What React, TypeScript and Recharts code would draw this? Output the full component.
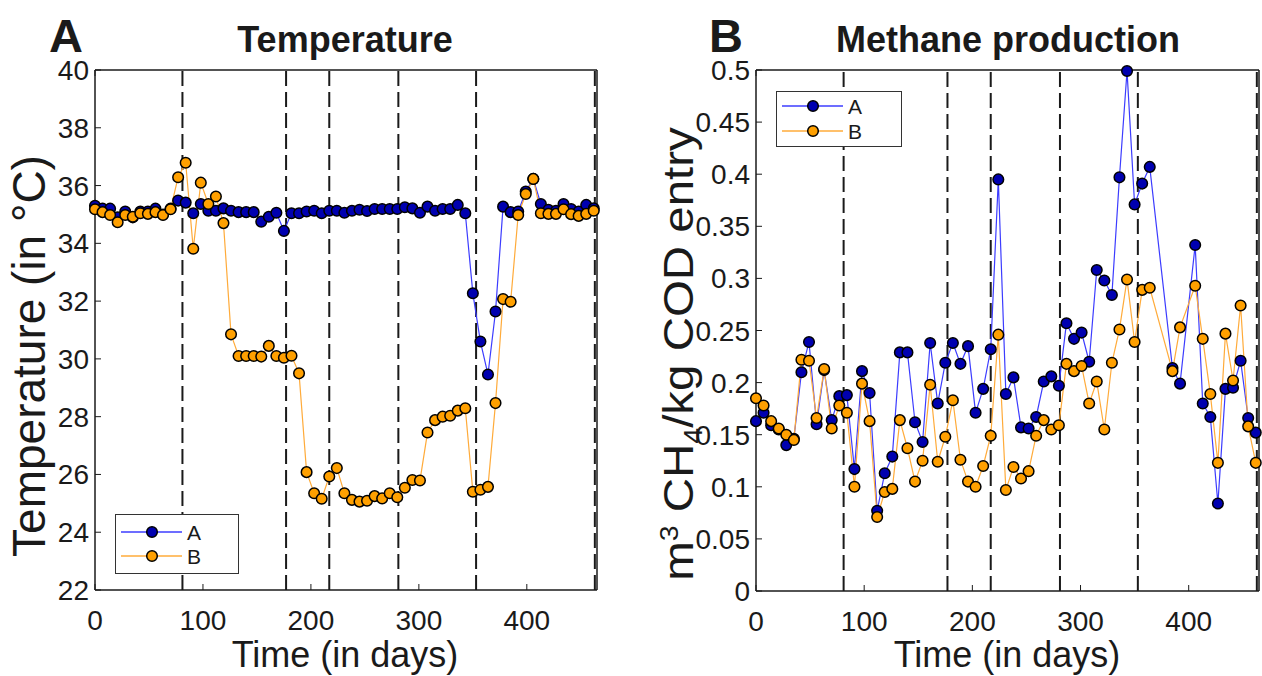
import React from "react";
import { ComposedChart, Line, XAxis, YAxis, ReferenceLine } from "recharts";

// ---- data ----
const tempDays = [0, 7, 14, 21, 28, 35, 42, 49, 56, 63, 70, 77, 84, 91, 98, 105, 112, 119, 126, 133, 140, 147, 154, 161, 168, 175, 182, 189, 196, 203, 210, 217, 224, 231, 238, 245, 252, 259, 266, 273, 280, 287, 294, 301, 308, 315, 322, 329, 336, 343, 350, 357, 364, 371, 378, 385, 392, 399, 406, 413, 420, 427, 434, 441, 448, 455, 462];
const tempA = [35.3, 35.2, 35.2, 34.9, 35.1, 34.9, 35.1, 35.1, 35.2, 35.0, 35.2, 35.48, 35.41, 35.04, 35.36, 35.13, 35.13, 35.21, 35.13, 35.08, 35.08, 35.08, 34.75, 34.92, 35.06, 34.43, 35.04, 35.04, 35.1, 35.13, 35.04, 35.13, 35.13, 35.06, 35.13, 35.16, 35.12, 35.19, 35.19, 35.19, 35.19, 35.25, 35.21, 35.06, 35.27, 35.13, 35.19, 35.19, 35.33, 35.04, 32.27, 30.6, 29.46, 31.64, 35.27, 35.08, 35.1, 35.79, 36.23, 35.36, 35.16, 35.13, 35.36, 35.19, 35.1, 35.33, 35.21];
const tempB = [35.18, 35.08, 34.98, 34.73, 34.98, 34.92, 35.04, 35.02, 35.08, 34.98, 35.18, 36.29, 36.79, 33.81, 36.1, 35.36, 35.62, 34.7, 30.85, 30.1, 30.1, 30.1, 30.08, 30.45, 30.1, 30.04, 30.11, 29.5, 26.08, 25.35, 25.16, 25.93, 26.22, 25.35, 25.12, 25.06, 25.09, 25.25, 25.17, 25.35, 25.21, 25.54, 25.81, 25.79, 27.45, 27.88, 28.0, 28.03, 28.21, 28.29, 25.4, 25.47, 25.57, 28.47, 32.07, 31.98, 34.98, 35.71, 36.23, 35.04, 35.02, 35.02, 35.18, 35.01, 34.95, 35.02, 35.13];

const methDays = [0, 7, 14, 21, 28, 35, 42, 49, 56, 63, 70, 77, 84, 91, 98, 105, 112, 119, 126, 133, 140, 147, 154, 161, 168, 175, 182, 189, 196, 203, 210, 217, 224, 231, 238, 245, 252, 259, 266, 273, 280, 287, 294, 301, 308, 315, 322, 329, 336, 343, 350, 357, 364, 385, 392, 406, 413, 420, 427, 434, 441, 448, 455, 462];
const methA = [0.163, 0.171, 0.159, 0.155, 0.14, 0.146, 0.21, 0.239, 0.16, 0.212, 0.164, 0.187, 0.188, 0.117, 0.211, 0.19, 0.077, 0.113, 0.129, 0.229, 0.229, 0.162, 0.143, 0.238, 0.18, 0.219, 0.238, 0.218, 0.235, 0.171, 0.194, 0.232, 0.395, 0.189, 0.205, 0.157, 0.156, 0.167, 0.201, 0.206, 0.197, 0.257, 0.242, 0.248, 0.22, 0.308, 0.298, 0.284, 0.397, 0.499, 0.371, 0.391, 0.407, 0.214, 0.199, 0.332, 0.18, 0.167, 0.084, 0.194, 0.195, 0.221, 0.166, 0.152];
const methB = [0.185, 0.178, 0.163, 0.156, 0.15, 0.145, 0.222, 0.221, 0.166, 0.213, 0.156, 0.178, 0.171, 0.1, 0.199, 0.163, 0.071, 0.095, 0.098, 0.164, 0.137, 0.105, 0.125, 0.198, 0.124, 0.148, 0.183, 0.126, 0.105, 0.1, 0.12, 0.149, 0.246, 0.097, 0.119, 0.108, 0.115, 0.149, 0.164, 0.155, 0.159, 0.218, 0.211, 0.216, 0.18, 0.201, 0.155, 0.219, 0.251, 0.299, 0.239, 0.289, 0.291, 0.211, 0.253, 0.293, 0.242, 0.189, 0.123, 0.247, 0.202, 0.274, 0.158, 0.123];

const dayTicks = [0, 100, 200, 300, 400];
const tempTicks = [22, 24, 26, 28, 30, 32, 34, 36, 38, 40];
const methTicks = [0, 0.05, 0.1, 0.15, 0.2, 0.25, 0.3, 0.35, 0.4, 0.45, 0.5];
const phaseDays = [81, 177, 217, 281, 353, 463];

const tempData = tempDays.map((d, i) => ({ day: d, A: tempA[i], B: tempB[i] }));
const methData = methDays.map((d, i) => ({ day: d, A: methA[i], B: methB[i] }));

// ---- style ----
const FONT = '"Liberation Sans", Arial, sans-serif';
const INK = "#1a1a1a";
const TICK_LEN = 6;
const TICK_FONT = 28;
const BLUE_LINE = "#3c3cff";
const BLUE_DOT = "#0000b0";
const ORANGE_LINE = "#ffab3a";
const ORANGE_DOT = "#ffa000";

const bottomTick = (gap: number) => (p: any) => {
  const axisY = p.y - gap;
  return (
    <g>
      <line x1={p.x} x2={p.x} y1={axisY} y2={axisY - TICK_LEN} stroke={INK} strokeWidth={1} />
      <text x={p.x} y={p.y} textAnchor="middle" fontSize={TICK_FONT} fontFamily={FONT} fill={INK}>
        {p.payload.value}
      </text>
    </g>
  );
};

const topTick = (p: any) => (
  <line x1={p.x} x2={p.x} y1={p.y} y2={p.y + TICK_LEN} stroke={INK} strokeWidth={1} />
);

const leftTick = (gap: number, fmt: (v: number) => string) => (p: any) => {
  const axisX = p.x + gap;
  return (
    <g>
      <line x1={axisX} x2={axisX + TICK_LEN} y1={p.y} y2={p.y} stroke={INK} strokeWidth={1} />
      <text x={p.x} y={p.y} dy={10} textAnchor="end" fontSize={TICK_FONT} fontFamily={FONT} fill={INK}>
        {fmt(p.payload.value)}
      </text>
    </g>
  );
};

const rightTick = (p: any) => (
  <line x1={p.x} x2={p.x - TICK_LEN} y1={p.y} y2={p.y} stroke={INK} strokeWidth={1} />
);

const axisLine = { stroke: INK, strokeWidth: 1.5 };

function Panel({
  width,
  data,
  yDomain,
  yTicks,
  yFmt,
  leftWidth,
  rightWidth,
  bottomHeight,
}: {
  width: number;
  data: any[];
  yDomain: [number, number];
  yTicks: number[];
  yFmt: (v: number) => string;
  leftWidth: number;
  rightWidth: number;
  bottomHeight: number;
}) {
  return (
    <ComposedChart width={width} height={676} data={data} margin={{ top: 0, right: 0, bottom: 0, left: 0 }}>
      <XAxis
        dataKey="day"
        type="number"
        domain={[0, 465]}
        ticks={dayTicks}
        interval={0}
        height={bottomHeight}
        tickSize={0}
        tickMargin={40}
        tickLine={false}
        axisLine={axisLine}
        tick={bottomTick(40)}
      />
      <XAxis
        xAxisId="top"
        orientation="top"
        type="number"
        domain={[0, 465]}
        ticks={dayTicks}
        interval={0}
        height={70}
        tickSize={0}
        tickMargin={0}
        tickLine={false}
        axisLine={axisLine}
        tick={topTick}
      />
      <YAxis
        type="number"
        domain={yDomain}
        ticks={yTicks}
        interval={0}
        width={leftWidth}
        tickSize={0}
        tickMargin={6}
        tickLine={false}
        axisLine={axisLine}
        tick={leftTick(6, yFmt)}
      />
      <YAxis
        yAxisId="right"
        orientation="right"
        type="number"
        domain={yDomain}
        ticks={yTicks}
        interval={0}
        width={rightWidth}
        tickSize={0}
        tickMargin={0}
        tickLine={false}
        axisLine={axisLine}
        tick={rightTick}
      />
      {phaseDays.map((d) => (
        <ReferenceLine key={d} x={d} stroke={INK} strokeWidth={2} strokeDasharray="15 6" />
      ))}
      <Line
        dataKey="A"
        type="linear"
        stroke={BLUE_LINE}
        strokeWidth={1.2}
        dot={{ r: 5.3, fill: BLUE_DOT, stroke: "#000", strokeWidth: 1.5 }}
        activeDot={false}
        isAnimationActive={false}
      />
      <Line
        dataKey="B"
        type="linear"
        stroke={ORANGE_LINE}
        strokeWidth={1.2}
        dot={{ r: 5.3, fill: ORANGE_DOT, stroke: "#000", strokeWidth: 1.5 }}
        activeDot={false}
        isAnimationActive={false}
      />
    </ComposedChart>
  );
}

function LegendBox({ left, top, width, height, rows }: { left: number; top: number; width: number; height: number; rows: number[] }) {
  const items = [
    { name: "A", line: BLUE_LINE, dot: BLUE_DOT },
    { name: "B", line: ORANGE_LINE, dot: ORANGE_DOT },
  ];
  return (
    <div style={{ position: "absolute", left, top, width, height, border: "1.5px solid #333", background: "#fff", boxSizing: "border-box" }}>
      <svg width={width} height={height} style={{ position: "absolute", left: 0, top: 0 }}>
        {items.map((it, i) => (
          <g key={it.name}>
            <line x1={5} x2={66} y1={rows[i]} y2={rows[i]} stroke={it.line} strokeWidth={1.5} />
            <circle cx={36} cy={rows[i]} r={5.3} fill={it.dot} stroke="#000" strokeWidth={1.5} />
            <text x={71} y={rows[i] + 8} fontSize={21} fontFamily={FONT} fill={INK}>
              {it.name}
            </text>
          </g>
        ))}
      </svg>
    </div>
  );
}

const centered = (x: number, y: number, extra: React.CSSProperties = {}): React.CSSProperties => ({
  position: "absolute",
  left: x,
  top: y,
  transform: "translate(-50%, -50%)",
  whiteSpace: "nowrap",
  lineHeight: 1,
  fontFamily: FONT,
  color: INK,
  ...extra,
});

export default function App() {
  const tempFmt = (v: number) => String(v);
  const methFmt = (v: number) => String(+v.toFixed(2));
  return (
    <div style={{ position: "absolute", left: 0, top: 0, width: 1262, height: 676, background: "#fff", overflow: "hidden" }}>
      <div style={{ position: "absolute", left: 0, top: 0 }}>
        <Panel width={620} data={tempData} yDomain={[22, 40]} yTicks={tempTicks} yFmt={tempFmt} leftWidth={95} rightWidth={23} bottomHeight={86} />
      </div>
      <div style={{ position: "absolute", left: 630, top: 0 }}>
        <Panel width={632} data={methData} yDomain={[0, 0.5]} yTicks={methTicks} yFmt={methFmt} leftWidth={126} rightWidth={3} bottomHeight={85} />
      </div>

      <LegendBox left={115} top={514} width={124} height={60} rows={[17, 41]} />
      <LegendBox left={776} top={91} width={126} height={56} rows={[14, 39]} />

      <div style={centered(66, 36, { fontSize: 47, fontWeight: "bold", lineHeight: 0.75 })}>A</div>
      <div style={centered(345, 40, { fontSize: 36, fontWeight: "bold" })}>Temperature</div>
      <div style={centered(726, 36, { fontSize: 47, fontWeight: "bold", lineHeight: 0.75 })}>B</div>
      <div style={centered(1008, 40, { fontSize: 36, fontWeight: "bold" })}>Methane production</div>

      <div style={centered(345, 655, { fontSize: 36 })}>Time (in days)</div>
      <div style={centered(1007, 655, { fontSize: 36 })}>Time (in days)</div>

      <div style={centered(29, 356, { fontSize: 46, transform: "translate(-50%, -50%) rotate(-90deg)" })}>Temperature (in °C)</div>
      <div style={centered(679, 354, { fontSize: 42, transform: "translate(-50%, -50%) rotate(-90deg) scaleX(1.13)" })}>
        m<sup style={{ fontSize: "0.6em", lineHeight: 0 }}>3</sup> CH<sub style={{ fontSize: "0.6em", lineHeight: 0 }}>4</sub>/kg COD entry
      </div>
    </div>
  );
}
